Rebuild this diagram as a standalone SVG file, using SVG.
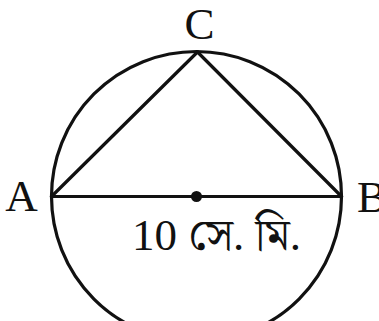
<svg xmlns="http://www.w3.org/2000/svg" width="379" height="321" viewBox="0 0 379 321">
<style>
.ln{fill:none;stroke:#111;stroke-width:3.2;stroke-linejoin:round;stroke-linecap:round}
.lb{font-family:"Liberation Serif","Noto Serif Bengali","Noto Sans Bengali",serif;font-size:45px;fill:#111}
</style>
<rect width="379" height="321" fill="#fff"/>
<g id="circle"><circle class="ln" cx="196.5" cy="196.5" r="145"/></g>
<g id="connectors">
<line class="ln" x1="51.5" y1="196.5" x2="341.5" y2="196.5"/>
<line class="ln" x1="51.5" y1="196.5" x2="197.5" y2="52"/>
<line class="ln" x1="197.5" y1="52" x2="341.5" y2="196.5"/>
</g>
<g id="O"><circle cx="196.5" cy="196.5" r="5.5" fill="#111"/></g>
<g id="A"><text class="lb" x="21.5" y="211" text-anchor="middle">A</text></g>
<g id="B"><text class="lb" x="357" y="212">B</text></g>
<g id="C"><text class="lb" x="199.5" y="39" text-anchor="middle">C</text></g>
<g id="label"><text class="lb" x="132" y="250">10 সে. মি.</text></g>
</svg>
